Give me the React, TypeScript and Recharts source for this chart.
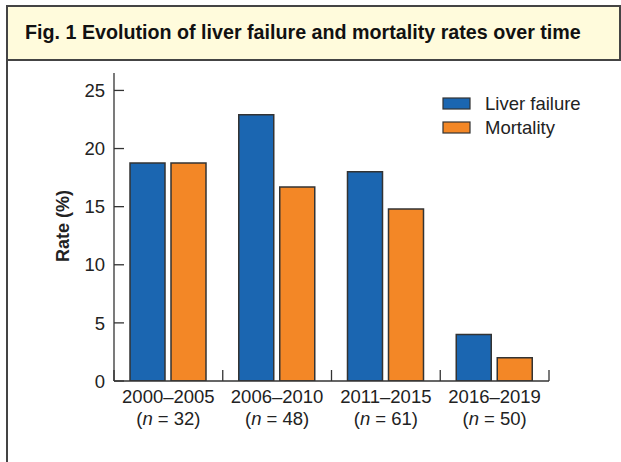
import { BarChart, Bar, XAxis, YAxis } from 'recharts';

const periods = ['2000–2005', '2006–2010', '2011–2015', '2016–2019'];
const sampleSizes = [32, 48, 61, 50];
const liverFailure = [18.75, 22.9, 18.0, 4.0];
const mortality = [18.75, 16.7, 14.8, 2.0];
const yTicks = [0, 5, 10, 15, 20, 25];

const blue = '#1b66b1';
const orange = '#f38726';
const ink = '#222';
const font = '"Liberation Sans", Arial, Helvetica, sans-serif';

const data = periods.map((p, i) => ({
  period: p,
  n: sampleSizes[i],
  liver: liverFailure[i],
  mortality: mortality[i],
}));

const legendItems = [
  { label: 'Liver failure', color: blue },
  { label: 'Mortality', color: orange },
];

function YTick({ x, y, payload }: any) {
  return (
    <g>
      <line x1={x} y1={y} x2={x + 10} y2={y} stroke="#333" strokeWidth={1.3} />
      <text x={x - 9} y={y} dy="0.36em" textAnchor="end" fontSize={18.5} fill={ink} fontFamily={font}>
        {payload.value}
      </text>
    </g>
  );
}

function XTick({ x, y, payload, index, visibleTicksCount }: any) {
  const half = payload.offset || 54.4;
  const last = index === visibleTicksCount - 1;
  return (
    <g>
      <line x1={x - half} y1={y} x2={x - half} y2={y - 11} stroke="#333" strokeWidth={1.3} />
      {last && <line x1={x + half} y1={y} x2={x + half} y2={y - 11} stroke="#333" strokeWidth={1.3} />}
      <text x={x} y={y + 22} textAnchor="middle" fontSize={18.5} fill={ink} fontFamily={font}>
        {payload.value}
      </text>
      <text x={x} y={y + 44} textAnchor="middle" fontSize={18.5} fill={ink} fontFamily={font}>
        (<tspan fontStyle="italic">n</tspan> = {data[index]?.n})
      </text>
    </g>
  );
}

export default function App() {
  return (
    <div style={{ position: 'absolute', left: 0, top: 0, width: 621, height: 462, background: '#fff', overflow: 'hidden', fontFamily: font }}>
      {/* title box */}
      <div style={{
        position: 'absolute', left: 6, top: 5, width: 611, height: 52,
        background: '#fffbdc', border: '2px solid #444',
      }}>
        <div style={{ position: 'absolute', left: 17, top: 14, fontSize: 19.7, fontWeight: 'bold', color: '#111', whiteSpace: 'nowrap' }}>
          Fig. 1 Evolution of liver failure and mortality rates over time
        </div>
      </div>
      <div style={{ position: 'absolute', left: 6, top: 59, width: 2, height: 410, background: '#444' }} />

      <div style={{ position: 'absolute', left: 0, top: 0 }}>
        <BarChart
          width={621}
          height={462}
          data={data}
          margin={{ top: 73, right: 72, bottom: 21, left: 74 }}
          barCategoryGap={16}
          barGap={6}
        >
          <YAxis
            domain={[0, 26.5]}
            ticks={yTicks}
            width={40}
            tickSize={0}
            tickMargin={0}
            tickLine={false}
            axisLine={{ stroke: '#333', strokeWidth: 1.3 }}
            tick={<YTick />}
            allowDataOverflow
          />
          <XAxis
            dataKey="period"
            height={60}
            tickSize={0}
            tickMargin={0}
            tickLine={false}
            interval={0}
            axisLine={{ stroke: '#333', strokeWidth: 1.3 }}
            tick={<XTick />}
          />
          <Bar dataKey="liver" name="Liver failure" fill={blue} stroke="#333" strokeWidth={1.5} isAnimationActive={false} />
          <Bar dataKey="mortality" name="Mortality" fill={orange} stroke="#333" strokeWidth={1.5} isAnimationActive={false} />
        </BarChart>
      </div>

      {/* legend */}
      <svg width={178} height={60} style={{ position: 'absolute', left: 442, top: 88 }}>
        {legendItems.map((it, i) => (
          <g key={it.label}>
            <rect x={1} y={10 + i * 24} width={27} height={11} fill={it.color} stroke="#333" strokeWidth={1.2} />
            <text x={43} y={22 + i * 24} fontSize={18.5} fill={ink} fontFamily={font}>{it.label}</text>
          </g>
        ))}
      </svg>

      <div style={{
        position: 'absolute', left: 63, top: 226, transform: 'translate(-50%, -50%) rotate(-90deg)',
        fontSize: 18, fontWeight: 'bold', color: ink, whiteSpace: 'nowrap',
      }}>
        Rate (%)
      </div>
    </div>
  );
}
